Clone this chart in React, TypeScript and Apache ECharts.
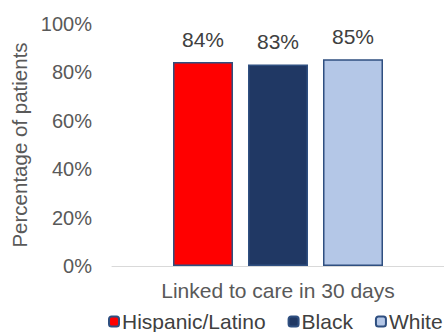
import React, { useEffect, useRef } from "react";
import * as echarts from "echarts";

const categories = ["Linked to care in 30 days"];
const groups = ["Hispanic/Latino", "Black", "White"];
const values = [84.3, 83.3, 85.4];
const colors = ["#FF0000", "#203864", "#B4C7E7"];
const yTicks = [0, 20, 40, 60, 80, 100];

export default function App() {
  const ref = useRef<HTMLDivElement>(null);
  useEffect(() => {
    const chart = echarts.init(ref.current!, null, { renderer: "svg" });
    const font = "'Liberation Sans', Arial, sans-serif";
    chart.setOption({
      animation: false,
      textStyle: { fontFamily: font },
      grid: { left: 112, width: 338, top: 24, bottom: 66 },
      legend: {
        data: groups,
        left: 108,
        top: 311,
        padding: 0,
        itemWidth: 10,
        itemHeight: 10,
        itemGap: 22,
        textStyle: { fontSize: 21, color: "#404040", fontFamily: font, padding: [0, 0, 0, -2] },
      },
      xAxis: {
        type: "category",
        data: categories,
        axisLine: { lineStyle: { color: "#D9D9D9", width: 1 } },
        axisTick: { show: false },
        axisLabel: { fontSize: 21, color: "#595959", margin: 14, fontFamily: font },
      },
      yAxis: {
        type: "value",
        min: yTicks[0],
        max: yTicks[yTicks.length - 1],
        interval: 20,
        name: "Percentage of patients",
        nameLocation: "middle",
        nameGap: 82,
        nameTextStyle: { fontSize: 20.5, color: "#595959", fontFamily: font },
        axisLine: { show: false },
        axisTick: { show: false },
        splitLine: { show: false },
        axisLabel: { fontSize: 20, color: "#595959", margin: 20, formatter: "{value}%", fontFamily: font },
      },
      series: groups.map((g, i) => ({
        name: g,
        type: "bar",
        data: [values[i]],
        barWidth: 60,
        barGap: "25%",
        itemStyle: { color: colors[i], borderColor: "#2F4F80", borderWidth: 1.5 },
        label: {
          show: true,
          position: "top",
          distance: 12,
          fontSize: 21,
          color: "#404040",
          fontFamily: font,
          formatter: (p: any) => Math.round(p.value) + "%",
        },
      })),
    });
    return () => chart.dispose();
  }, []);
  return <div ref={ref} style={{ width: 444, height: 332, position: "absolute", left: 0, top: 0 }} />;
}
